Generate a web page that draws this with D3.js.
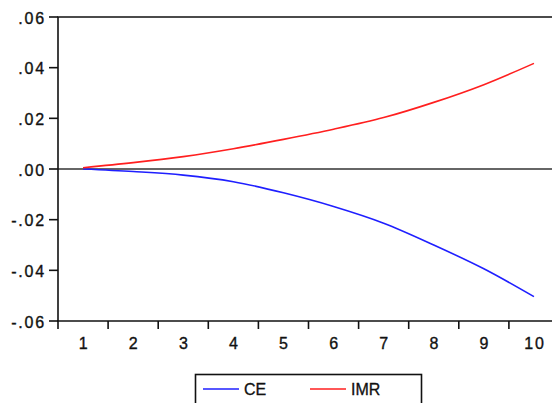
<!doctype html>
<html>
<head>
<meta charset="utf-8">
<script src="https://d3js.org/d3.v7.min.js"></script>
<style>
  body { margin: 0; background: #fff; }
  text { font-family: "Liberation Sans", Arial, sans-serif; }
  .num { letter-spacing: 1.8px; stroke: #111; stroke-width: 0.35px; }
  .leg { stroke: #111; stroke-width: 0.3px; }
</style>
</head>
<body>
<div id="chart"></div>
<script>
// periods on the x axis
var periods = [1, 2, 3, 4, 5, 6, 7, 8, 9, 10];
// responses
var ceValues = [0.0000, -0.0010, -0.0024, -0.0050, -0.0094, -0.0148, -0.0214, -0.0300, -0.0394, -0.0504];
var imrValues = [0.0005, 0.0025, 0.0049, 0.0080, 0.0117, 0.0157, 0.0203, 0.0263, 0.0333, 0.0417];
var yTicks = [-0.06, -0.04, -0.02, 0.00, 0.02, 0.04, 0.06];
var yTickLabels = ["-.06", "-.04", "-.02", ".00", ".02", ".04", ".06"];
var seriesNames = ["CE", "IMR"];
var seriesColors = ["#1f1fff", "#ff1f1f"];

var W = 552, H = 403;
var margin = {top: 17, left: 58, bottom: 82};
var plotRight = 559;
var fontSize = 16;

var svg = d3.select("#chart").append("svg")
    .attr("width", W)
    .attr("height", H);

var x = d3.scaleBand()
    .domain(periods)
    .range([margin.left, plotRight]);

var y = d3.scaleLinear()
    .domain([-0.06, 0.06])
    .range([H - margin.bottom, margin.top]);

var bottomY = y(-0.06);

// zero line
svg.append("line")
    .attr("x1", margin.left).attr("x2", plotRight)
    .attr("y1", y(0)).attr("y2", y(0))
    .attr("stroke", "#333").attr("stroke-width", 1.5);

// series
var line = d3.line()
    .x(function(d, i) { return x(periods[i]) + x.bandwidth() / 2; })
    .y(function(d) { return y(d); })
    .curve(d3.curveMonotoneX);

[ceValues, imrValues].forEach(function(vals, k) {
    svg.append("path")
        .datum(vals)
        .attr("fill", "none")
        .attr("stroke", seriesColors[k])
        .attr("stroke-width", 1.6)
        .attr("d", line);
});

// frame: top and left borders, bottom axis
svg.append("path")
    .attr("d", "M" + margin.left + "," + bottomY + "V" + y(0.06) + "H" + plotRight)
    .attr("fill", "none").attr("stroke", "#111").attr("stroke-width", 1.6);
svg.append("line")
    .attr("x1", margin.left - 1).attr("x2", plotRight)
    .attr("y1", bottomY).attr("y2", bottomY)
    .attr("stroke", "#111").attr("stroke-width", 1.6);

// y ticks and labels
var yAxis = svg.append("g");
yAxis.selectAll("line").data(yTicks).enter().append("line")
    .attr("x1", margin.left - 9).attr("x2", margin.left)
    .attr("y1", function(d) { return y(d); })
    .attr("y2", function(d) { return y(d); })
    .attr("stroke", "#111").attr("stroke-width", 1.6);
yAxis.selectAll("text").data(yTicks).enter().append("text")
    .attr("class", "num")
    .attr("x", margin.left - 12)
    .attr("y", function(d) { return y(d) + 1; })
    .attr("dy", "0.36em")
    .attr("text-anchor", "end")
    .attr("font-size", fontSize)
    .attr("fill", "#111")
    .text(function(d, i) { return yTickLabels[i]; });

// x ticks at band edges, labels at band centres
var xAxis = svg.append("g");
xAxis.selectAll("line").data(periods).enter().append("line")
    .attr("x1", function(d) { return x(d); })
    .attr("x2", function(d) { return x(d); })
    .attr("y1", bottomY).attr("y2", bottomY + 8)
    .attr("stroke", "#111").attr("stroke-width", 1.6);
xAxis.selectAll("text").data(periods).enter().append("text")
    .attr("class", "num")
    .attr("x", function(d) { return x(d) + x.bandwidth() / 2 + 1; })
    .attr("y", bottomY + 28)
    .attr("text-anchor", "middle")
    .attr("font-size", fontSize)
    .attr("fill", "#111")
    .text(function(d) { return d; });

// legend box
var legend = svg.append("g");
legend.append("rect")
    .attr("x", 195.5).attr("y", 374.5)
    .attr("width", 226).attr("height", 40)
    .attr("fill", "#fff").attr("stroke", "#111").attr("stroke-width", 1.6);
var legendX = [203, 310];
seriesNames.forEach(function(name, k) {
    legend.append("line")
        .attr("x1", legendX[k]).attr("x2", legendX[k] + 36)
        .attr("y1", 389).attr("y2", 389)
        .attr("stroke", seriesColors[k]).attr("stroke-width", 1.6);
    legend.append("text")
        .attr("class", "leg")
        .attr("x", legendX[k] + 41)
        .attr("y", 389)
        .attr("dy", "0.36em")
        .attr("font-size", fontSize)
        .attr("fill", "#111")
        .text(name);
});
</script>
</body>
</html>
